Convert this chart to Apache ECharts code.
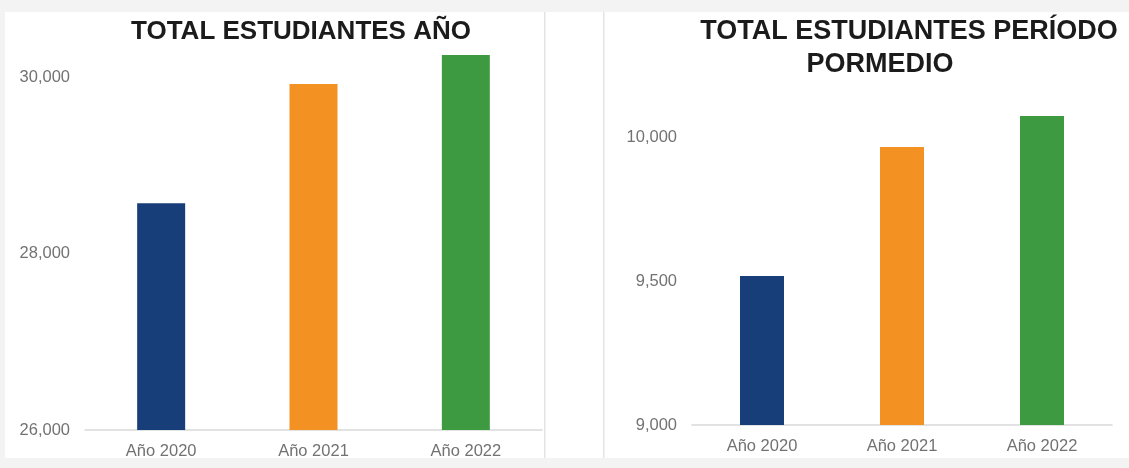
<!DOCTYPE html>
<html>
<head>
<meta charset="utf-8">
<script src="https://cdn.jsdelivr.net/npm/echarts@6/dist/echarts.min.js"></script>
<style>
  html, body { margin: 0; padding: 0; background: #f3f3f3; }
  #main { width: 1129px; height: 468px; }
</style>
</head>
<body>
<div id="main"></div>
<script>
// datos
var categorias = ['Año 2020', 'Año 2021', 'Año 2022'];
var totalAnio = [28570, 29920, 30250];
var totalPeriodo = [9517, 9965, 10073];
var ticksAnio = [26000, 28000, 30000];
var ticksPeriodo = [9000, 9500, 10000];
var colores = ['#173e79', '#f39222', '#3e9a41'];

var myChart = echarts.init(document.getElementById('main'));

function fmt(v) {
    return v.toLocaleString('en-US');
}

function barras(valores) {
    return valores.map(function (v, i) {
        return { value: v, itemStyle: { color: colores[i] } };
    });
}

var ejeX = {
    type: 'category',
    data: categorias,
    axisTick: { show: false },
    axisLine: { lineStyle: { color: '#d9d9d9', width: 1.5 } },
    axisLabel: { color: '#727272', fontSize: 16.5, margin: 13, fontFamily: 'Liberation Sans' }
};

var ejeY = {
    type: 'value',
    splitLine: { show: false },
    axisLine: { show: false },
    axisTick: { show: false },
    axisLabel: {
        color: '#727272', fontSize: 16.5, margin: 15, fontFamily: 'Liberation Sans',
        showMaxLabel: false,
        formatter: fmt
    }
};

var tituloStyle = { fontSize: 26, fontWeight: 'bold', color: '#1b1b1b', fontFamily: 'Liberation Sans' };
var tituloStyle2 = { fontSize: 27, fontWeight: 'bold', color: '#1b1b1b', fontFamily: 'Liberation Sans' };

option = {
    backgroundColor: '#f3f3f3',
    animation: false,
    graphic: [
        { type: 'rect', shape: { x: 5, y: 12, width: 1124, height: 446 }, style: { fill: '#ffffff' }, z: -10 },
        { type: 'rect', shape: { x: 544, y: 12, width: 1.5, height: 446 }, style: { fill: '#e4e4e4' }, z: -9 },
        { type: 'rect', shape: { x: 603, y: 12, width: 1.5, height: 446 }, style: { fill: '#e4e4e4' }, z: -9 }
    ],
    title: [
        { text: 'TOTAL ESTUDIANTES AÑO', left: 296, top: 14, textAlign: 'center', textStyle: tituloStyle },
        { text: 'TOTAL ESTUDIANTES PERÍODO', left: 904, top: 13, textAlign: 'center', textStyle: tituloStyle2 },
        { text: 'PORMEDIO', left: 875, top: 46, textAlign: 'center', textStyle: tituloStyle2 }
    ],
    grid: [
        { left: 85, width: 457, top: 41.7, bottom: 38 },
        { left: 692, width: 420, top: 108.2, bottom: 43 }
    ],
    xAxis: [
        Object.assign({ gridIndex: 0 }, ejeX),
        Object.assign({ gridIndex: 1 }, ejeX)
    ],
    yAxis: [
        Object.assign({ gridIndex: 0, min: ticksAnio[0], max: 30400, interval: ticksAnio[1] - ticksAnio[0] }, ejeY),
        Object.assign({ gridIndex: 1, min: ticksPeriodo[0], max: 10100, interval: ticksPeriodo[1] - ticksPeriodo[0] }, ejeY)
    ],
    series: [
        {
            name: 'Total estudiantes año',
            type: 'bar',
            xAxisIndex: 0, yAxisIndex: 0,
            barWidth: 48,
            data: barras(totalAnio)
        },
        {
            name: 'Total estudiantes período',
            type: 'bar',
            xAxisIndex: 1, yAxisIndex: 1,
            barWidth: 44,
            data: barras(totalPeriodo)
        }
    ]
};

myChart.setOption(option);
</script>
</body>
</html>
